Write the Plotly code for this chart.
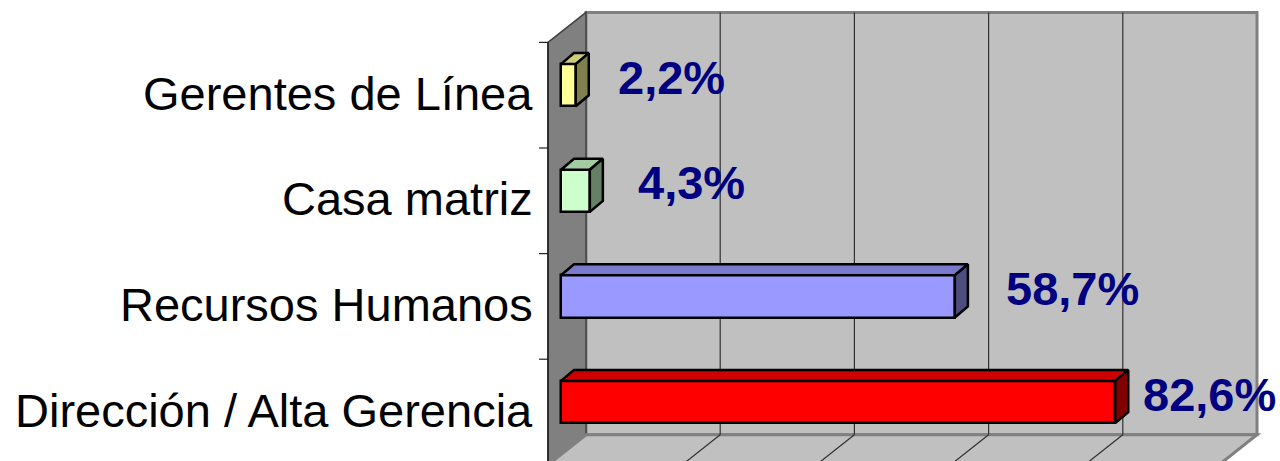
import plotly.graph_objects as go

# ---- data ----
categories = ["Dirección / Alta Gerencia", "Recursos Humanos", "Casa matriz", "Gerentes de Línea"]
values = [82.6, 58.7, 4.3, 2.2]
axis_ticks = [0, 20, 40, 60, 80, 100]

# ---- style ----
front_colors = ["#FF0000", "#9999FF", "#CCFFCC", "#FFFF99"]
top_colors = ["#CC0000", "#7A7ACC", "#A3CCA3", "#CCCC7A"]
side_colors = ["#800000", "#4D4D80", "#668066", "#80804D"]
label_xshift = [26, 49, 46, 40]

W, H = 1280, 461
# pixel mapping of the data axes (full-figure plot area)
X0, SX = 561.0, 6.71      # x=0 at pixel 561, px per %
Y0, SY = 402.0, 105.6     # category 0 centre pixel, px per category
xr = [(0 - X0) / SX, (W - X0) / SX]
yr = [(Y0 - H) / SY, (Y0 - 0) / SY]

def dxp(px):  # pixel distance -> x data units
    return px / SX

def dyp(py):  # pixel distance (upwards) -> y data units
    return py / SY

bar_w = 0.40
depth_dx, depth_dy = dxp(13), dyp(11)      # bar depth
wall_dx, wall_dy = dxp(25), dyp(20)        # bar-front plane -> back wall
front_dx, front_dy = dxp(-13), dyp(-10)    # bar-front plane -> chart front plane

fig = go.Figure()

# ---- 3D frame (walls / floor) built from axis scale ----
n = len(categories)
y_bottom_front = -0.5 + front_dy
y_top_front = n - 0.5 + front_dy
bw_x0 = axis_ticks[0] + wall_dx
bw_x1 = axis_ticks[-1] + wall_dx
bw_y0 = y_bottom_front + (wall_dy - front_dy)
bw_y1 = y_top_front + (wall_dy - front_dy)
fx0 = axis_ticks[0] + front_dx
fx1 = axis_ticks[-1] + front_dx

shapes = []
# back wall
shapes.append(dict(type="rect", xref="x", yref="y", x0=bw_x0, x1=bw_x1, y0=bw_y0, y1=bw_y1,
                   fillcolor="#C0C0C0", line=dict(color="#808080", width=3), layer="below"))
# side wall
shapes.append(dict(type="path", xref="x", yref="y",
                   path=f"M{fx0},{y_top_front} L{bw_x0},{bw_y1} L{bw_x0},{bw_y0} L{fx0},{y_bottom_front} Z",
                   fillcolor="#808080", line=dict(color="#404040", width=1.5), layer="below"))
# floor
shapes.append(dict(type="path", xref="x", yref="y",
                   path=f"M{bw_x0},{bw_y0} L{bw_x1},{bw_y0} L{fx1},{y_bottom_front} L{fx0},{y_bottom_front} Z",
                   fillcolor="#C0C0C0", line=dict(color="#808080", width=3), layer="below"))
# gridlines on back wall and floor
for t in axis_ticks[1:-1]:
    shapes.append(dict(type="line", xref="x", yref="y", x0=t + wall_dx, x1=t + wall_dx,
                       y0=bw_y0, y1=bw_y1, line=dict(color="#303030", width=1.2), layer="below"))
    shapes.append(dict(type="line", xref="x", yref="y", x0=t + wall_dx, x1=t + front_dx,
                       y0=bw_y0, y1=y_bottom_front, line=dict(color="#303030", width=1.2), layer="below"))
# front-left axis line and category ticks
shapes.append(dict(type="line", xref="x", yref="y", x0=fx0, x1=fx0, y0=y_bottom_front, y1=y_top_front,
                   line=dict(color="#202020", width=1.5), layer="below"))
for k in range(n + 1):
    yy = k - 0.5 + front_dy
    shapes.append(dict(type="line", xref="x", yref="y", x0=fx0 - dxp(9), x1=fx0, y0=yy, y1=yy,
                       line=dict(color="#202020", width=1.2), layer="below"))

# ---- bars (front faces) ----
ys = list(range(n))
fig.add_trace(go.Bar(x=values, y=ys, orientation="h", width=bar_w, base=0,
                     marker=dict(color=front_colors, line=dict(color="black", width=2.5)),
                     hoverinfo="skip", showlegend=False))

# ---- top and side faces from data ----
for i, (v, yc) in enumerate(zip(values, ys)):
    yt, yb = yc + bar_w / 2, yc - bar_w / 2
    fig.add_trace(go.Scatter(
        x=[0, v, v + depth_dx, depth_dx, 0], y=[yt, yt, yt + depth_dy, yt + depth_dy, yt],
        mode="lines", fill="toself", fillcolor=top_colors[i],
        line=dict(color="black", width=2.5), hoverinfo="skip", showlegend=False))
    fig.add_trace(go.Scatter(
        x=[v, v + depth_dx, v + depth_dx, v, v], y=[yb, yb + depth_dy, yt + depth_dy, yt, yb],
        mode="lines", fill="toself", fillcolor=side_colors[i],
        line=dict(color="black", width=2.5), hoverinfo="skip", showlegend=False))

annotations = []
for i, (c, v, yc) in enumerate(zip(categories, values, ys)):
    annotations.append(dict(x=front_dx - dxp(13), y=yc + front_dy, xref="x", yref="y", text=c,
                            showarrow=False, xanchor="right", yanchor="middle", yshift=2,
                            font=dict(family="Arial, Liberation Sans, sans-serif", size=47, color="black")))
    annotations.append(dict(x=v, y=yc, xref="x", yref="y",
                            text=f"<b>{v:.1f}%</b>".replace(".", ","),
                            showarrow=False, xanchor="left", yanchor="middle",
                            xshift=label_xshift[i], yshift=8,
                            font=dict(family="Arial, Liberation Sans, sans-serif", size=47, color="#000080")))

fig.update_layout(
    width=W, height=H, autosize=False,
    margin=dict(l=0, r=0, t=0, b=0, pad=0),
    paper_bgcolor="white", plot_bgcolor="white",
    xaxis=dict(range=xr, visible=False, fixedrange=True),
    yaxis=dict(range=yr, visible=False, fixedrange=True),
    shapes=shapes, annotations=annotations, bargap=0,
    showlegend=False,
)

fig.write_html("out.html", config={"displayModeBar": False},
               post_script="document.body.style.margin='0';")
